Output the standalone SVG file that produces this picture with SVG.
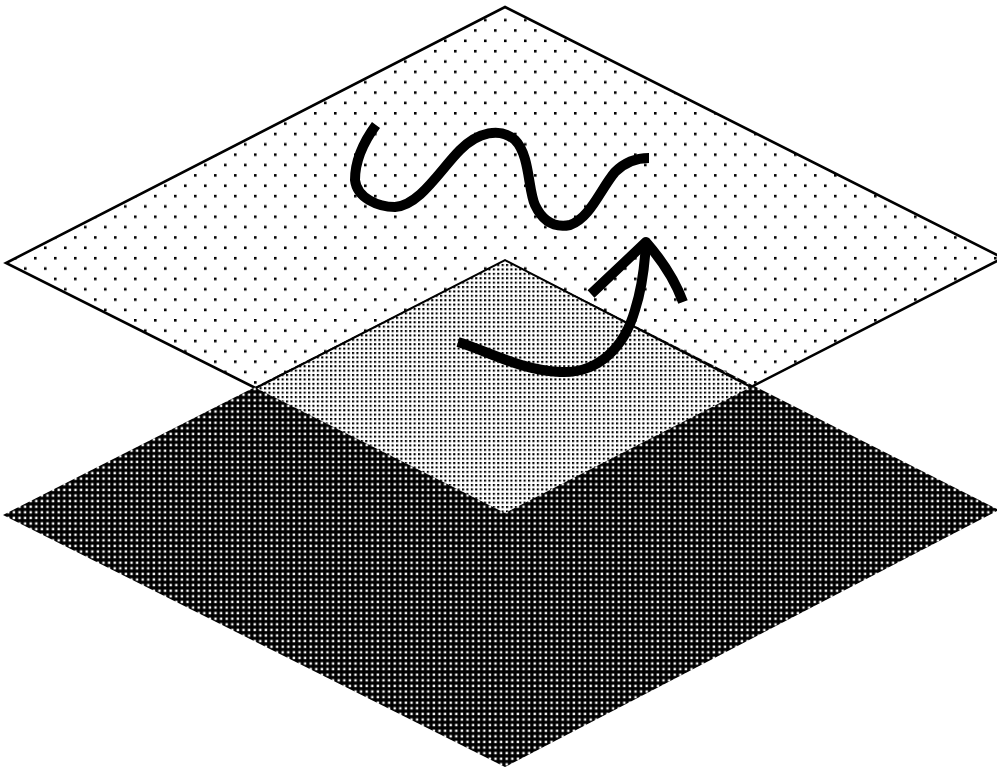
<svg xmlns="http://www.w3.org/2000/svg" width="997" height="767" viewBox="0 0 997 767">
<defs>
<pattern id="light" patternUnits="userSpaceOnUse" x="354" y="112" width="20" height="20.7">
<rect width="20" height="20.7" fill="#fff"/>
<rect x="0" y="0" width="2.6" height="2.6" fill="#000"/>
<rect x="10" y="10.35" width="2.6" height="2.6" fill="#000"/>
</pattern>
<pattern id="medium" patternUnits="userSpaceOnUse" x="0" y="0" width="4.4" height="4.4">
<rect width="4.4" height="4.4" fill="#fff"/>
<rect x="0" y="0" width="2.1" height="2.1" fill="#000"/>
</pattern>
<pattern id="dark" patternUnits="userSpaceOnUse" x="0" y="0" width="5.6" height="5.6">
<rect width="5.6" height="5.6" fill="#000"/>
<rect x="1.5" y="1.5" width="2.4" height="2.4" fill="#fff"/>
</pattern>
</defs>
<style>
.curve{fill:none;stroke:#000;stroke-width:10;stroke-linecap:butt;stroke-linejoin:round}
.edge{fill:none;stroke:#000;stroke-width:2}
</style>
<rect width="997" height="767" fill="#fff"/>
<g id="top-plane">
<polygon points="505,7 1003,258 505,513 6,263" fill="url(#light)" stroke="#000" stroke-width="2.6" stroke-linejoin="miter"/>
</g>
<g id="bottom-plane">
<polygon points="505,260 999,510 505,767 3,515" fill="url(#dark)"/>
<polygon points="505,260 751,387 505,513 256,388" fill="url(#medium)"/>
<polyline class="edge" points="256,388 505,260 751,387"/>
</g>
<g id="connectors">
<path id="wave" class="curve" d="M376,125 C365,140 355,160 355,180 C357,198 378,207 395,207 C420,205 440,170 460,150 C478,132 500,127 515,140 C530,155 528,190 535,205 C543,222 555,228 570,225 C590,218 600,190 615,172 C625,162 637,158 649,158"/>
<path id="arrow" class="curve" d="M458,342 C490,352 520,370 560,372 C600,374 625,345 635,310 C643,285 645,262 646,242"/>
<path class="curve" d="M591,294 L646,242 C660,258 675,280 683,302"/>
</g>
</svg>
